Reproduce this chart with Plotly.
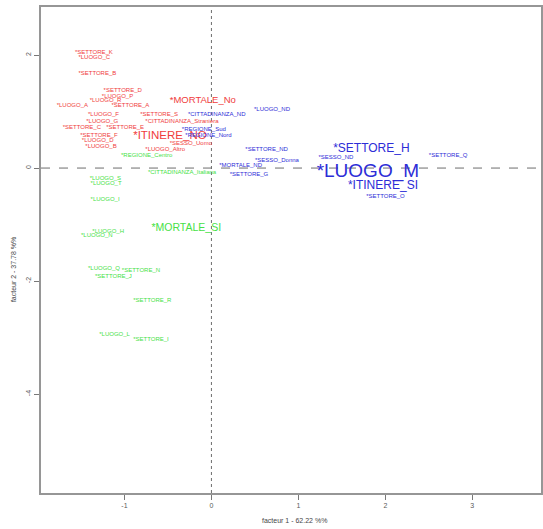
import plotly.graph_objects as go

red_labels = ["SETTORE_K", "LUOGO_C", "SETTORE_B", "SETTORE_D", "LUOGO_P", "LUOGO_R", "LUOGO_A",
              "SETTORE_A", "MORTALE_No", "LUOGO_F", "LUOGO_G", "SETTORE_S", "CITTADINANZA_Straniera",
              "SETTORE_C", "SETTORE_E", "ITINERE_NO", "SETTORE_F", "LUOGO_D", "LUOGO_B",
              "SESSO_Uomo", "LUOGO_Altro"]
red_x = [-1.57, -1.53, -1.53, -1.24, -1.26, -1.40, -1.78, -1.15, -0.48, -1.42, -1.44, -0.82, -0.76,
         -1.71, -1.21, -0.90, -1.51, -1.49, -1.45, -0.48, -0.76]
red_y = [2.05, 1.95, 1.68, 1.38, 1.27, 1.19, 1.10, 1.10, 1.19, 0.94, 0.83, 0.94, 0.83,
         0.71, 0.71, 0.57, 0.58, 0.48, 0.39, 0.44, 0.32]
red_size = [6, 6, 6, 6, 6, 6, 6, 6, 9.5, 6, 6, 6, 6, 6, 6, 11.5, 6, 6, 6, 6, 6]

green_labels = ["REGIONE_Centro", "CITTADINANZA_Italiana", "LUOGO_S", "LUOGO_T", "LUOGO_I",
                "MORTALE_SI", "LUOGO_H", "LUOGO_N", "LUOGO_Q", "SETTORE_N", "SETTORE_J",
                "SETTORE_R", "LUOGO_L", "SETTORE_I"]
green_x = [-1.04, -0.73, -1.40, -1.39, -1.39, -0.69, -1.37, -1.50, -1.42, -1.03, -1.34, -0.90, -1.29, -0.90]
green_y = [0.23, -0.07, -0.18, -0.27, -0.55, -1.06, -1.12, -1.20, -1.77, -1.81, -1.91, -2.34, -2.94, -3.03]
green_size = [6, 6, 6, 6, 6, 10.5, 6, 6, 6, 6, 6, 6, 6, 6]

blue_labels = ["LUOGO_ND", "CITTADINANZA_ND", "REGIONE_Sud", "REGIONE_Nord", "SETTORE_ND",
               "SESSO_Donna", "MORTALE_ND", "SETTORE_G", "SETTORE_H", "SESSO_ND", "SETTORE_Q",
               "LUOGO_M", "ITINERE_SI", "SETTORE_O"]
blue_x = [0.49, -0.27, -0.34, -0.30, 0.39, 0.50, 0.09, 0.21, 1.40, 1.23, 2.50, 1.21, 1.57, 1.78]
blue_y = [1.03, 0.94, 0.69, 0.57, 0.32, 0.14, 0.05, -0.11, 0.34, 0.19, 0.23, -0.07, -0.32, -0.50]
blue_size = [6, 6, 6, 6, 6, 6, 6, 6, 12, 6, 6, 19, 12, 6]

x_ticks = [-1, 0, 1, 2, 3]
y_ticks = [2, 0, -2, -4]
x_title = "facteur 1 - 62.22 %%"
y_title = "facteur 2 - 37.78 %%"

fig = go.Figure()
for labels, xs, ys, sizes, col in [
    (red_labels, red_x, red_y, red_size, "rgb(240,60,60)"),
    (green_labels, green_x, green_y, green_size, "rgb(70,225,70)"),
    (blue_labels, blue_x, blue_y, blue_size, "rgb(45,45,215)"),
]:
    fig.add_trace(go.Scatter(
        x=xs, y=ys, mode="text", text=["*" + l for l in labels],
        textposition="middle right",
        textfont=dict(family="Liberation Sans, Arial", size=sizes, color=col),
        hoverinfo="skip", showlegend=False, cliponaxis=False,
    ))

# dashed reference lines at origin
fig.add_shape(type="line", xref="x", yref="paper", x0=0, x1=0, y0=0, y1=1,
              line=dict(color="rgb(110,110,110)", width=1, dash="dot"), layer="below")
fig.add_shape(type="line", xref="paper", yref="y", x0=0, x1=1, y0=0, y1=0,
              line=dict(color="rgb(110,110,110)", width=1, dash="dash"), layer="below")

axis_common = dict(showgrid=False, zeroline=False, showline=True, mirror=True,
                   linecolor="rgb(150,150,150)", linewidth=1.5, ticks="outside", ticklen=5,
                   tickcolor="rgb(120,120,120)",
                   tickfont=dict(family="Liberation Sans, Arial", size=7, color="rgb(90,90,90)"))

fig.update_layout(
    width=543, height=529,
    margin=dict(l=41, r=0, t=7, b=36),
    paper_bgcolor="white", plot_bgcolor="white",
    xaxis=dict(range=[-1.96, 3.79], tickvals=x_ticks, ticktext=[str(v) for v in x_ticks], **axis_common),
    yaxis=dict(range=[-5.75, 2.85], tickvals=y_ticks, ticktext=[str(v) for v in y_ticks],
               tickangle=-90, **axis_common),
    annotations=[
        dict(text=x_title, xref="paper", yref="paper", x=(296 - 41) / 502, y=-27 / 486,
             showarrow=False, font=dict(family="Liberation Sans, Arial", size=7, color="rgb(70,70,70)"),
             xanchor="center", yanchor="middle"),
        dict(text=y_title, xref="paper", yref="paper", x=-28 / 502, y=(493 - 270) / 486,
             showarrow=False, textangle=-90,
             font=dict(family="Liberation Sans, Arial", size=7, color="rgb(70,70,70)"),
             xanchor="center", yanchor="middle"),
    ],
)

fig.write_html("out.html")
